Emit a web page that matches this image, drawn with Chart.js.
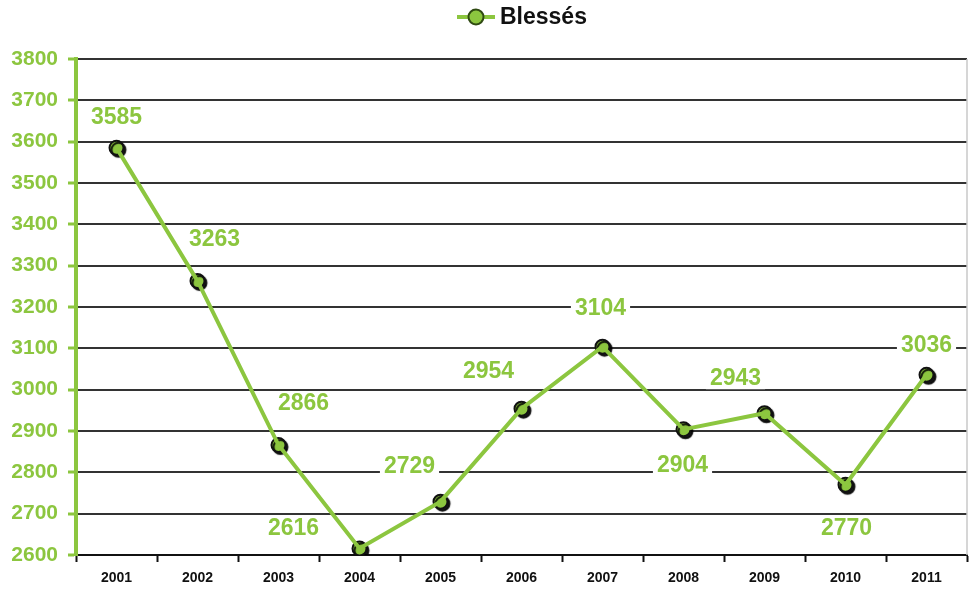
<!DOCTYPE html>
<html>
<head>
<meta charset="utf-8">
<script src="https://cdn.jsdelivr.net/npm/chart.js@4"></script>
<style>
html,body{margin:0;padding:0;background:#fff;}
#wrap{width:976px;height:598px;}
</style>
</head>
<body>
<div id="wrap"><canvas id="chart" width="976" height="598"></canvas></div>
<script>
/* ================= DATA ================= */

const years=["2001","2002","2003","2004","2005","2006","2007","2008","2009","2010","2011"];
const blesses=[3585,3263,2866,2616,2729,2954,3104,2904,2943,2770,3036];
const seriesName="Blessés";

// where each value label sits relative to its point
const labelShift=[[0,-31],[17,-42],[25,-42],[-66,-21],[-31,-36],[-33,-38],[-2,-39],[-1,35],[-29,-36],[1,43],[0,-30]];

const green="#8cc63f";
const font="'Liberation Sans', Arial, sans-serif";


/* ================= PLUGINS ================= */

const pointShadow={
id:"pointShadow",
beforeDatasetDraw(chart,args){
if(args.index!==1) return;
const ctx=chart.ctx;
ctx.save();
ctx.shadowColor="rgba(0,0,0,0.9)";
ctx.shadowOffsetX=2;
ctx.shadowOffsetY=2;
ctx.shadowBlur=1;
},
afterDatasetDraw(chart,args){
if(args.index!==1) return;
chart.ctx.restore();
}
};

const valueLabels={
id:"valueLabels",
afterDatasetsDraw(chart){
const ctx=chart.ctx;
const pts=chart.getDatasetMeta(1).data;
ctx.save();
ctx.font="bold 23px "+font;
ctx.textAlign="center";
ctx.textBaseline="middle";
pts.forEach((p,i)=>{
const x=p.x+labelShift[i][0];
const y=p.y+labelShift[i][1];
const txt=String(blesses[i]);
const w=ctx.measureText(txt).width;
ctx.fillStyle="#fff";
ctx.fillRect(x-w/2-4,y-12,w+8,24);
ctx.fillStyle=green;
ctx.fillText(txt,x,y+1);
});
ctx.restore();
}
};

const frameAndLegend={
id:"frameAndLegend",
beforeDatasetsDraw(chart){
const {ctx,chartArea}=chart;
ctx.save();
ctx.strokeStyle="#c8c8c8";
ctx.lineWidth=1.5;
ctx.beginPath();
ctx.moveTo(chartArea.right,chartArea.top);
ctx.lineTo(chartArea.right,chartArea.bottom);
ctx.stroke();
ctx.restore();
},
afterDraw(chart){
const ctx=chart.ctx;
ctx.save();
ctx.strokeStyle=green;
ctx.lineWidth=4;
ctx.beginPath();
ctx.moveTo(457,17);
ctx.lineTo(495,17);
ctx.stroke();
ctx.beginPath();
ctx.arc(476,17,7.5,0,Math.PI*2);
ctx.fillStyle=green;
ctx.fill();
ctx.lineWidth=2;
ctx.strokeStyle="#2f4a12";
ctx.stroke();
ctx.fillStyle="#111";
ctx.font="bold 23px "+font;
ctx.textBaseline="middle";
ctx.fillText(seriesName,500,18);
ctx.restore();
}
};


/* ================= CHART ================= */

new Chart(document.getElementById("chart"),{
type:"line",
data:{
labels:years,
datasets:[
{label:seriesName,data:blesses,borderColor:green,borderWidth:4,pointRadius:0,tension:0,fill:false},
{label:seriesName,data:blesses,showLine:false,pointRadius:7,pointBackgroundColor:green,pointBorderColor:"#111",pointBorderWidth:2}
]
},
options:{
responsive:false,
animation:false,
layout:{padding:{top:59,right:4,left:0,bottom:0}},
plugins:{legend:{display:false},tooltip:{enabled:false}},
scales:{
x:{
offset:true,
grid:{offset:true,drawOnChartArea:false,tickLength:7,tickColor:"#111",tickWidth:2},
border:{color:"#111",width:2},
ticks:{color:"#111",font:{family:font,weight:"bold",size:14},padding:8},
afterFit(s){s.height=43;s.paddingLeft=0;s.paddingRight=0;}
},
y:{
min:2600,max:3800,
grid:{color:"#333",lineWidth:2,tickColor:green,tickWidth:3,tickLength:8},
border:{color:green,width:4},
ticks:{stepSize:100,color:green,font:{family:font,weight:"bold",size:21},padding:10,callback:v=>String(v)},
afterFit(s){s.width=76;}
}
}
},
plugins:[frameAndLegend,pointShadow,valueLabels]
});
</script>
</body>
</html>
